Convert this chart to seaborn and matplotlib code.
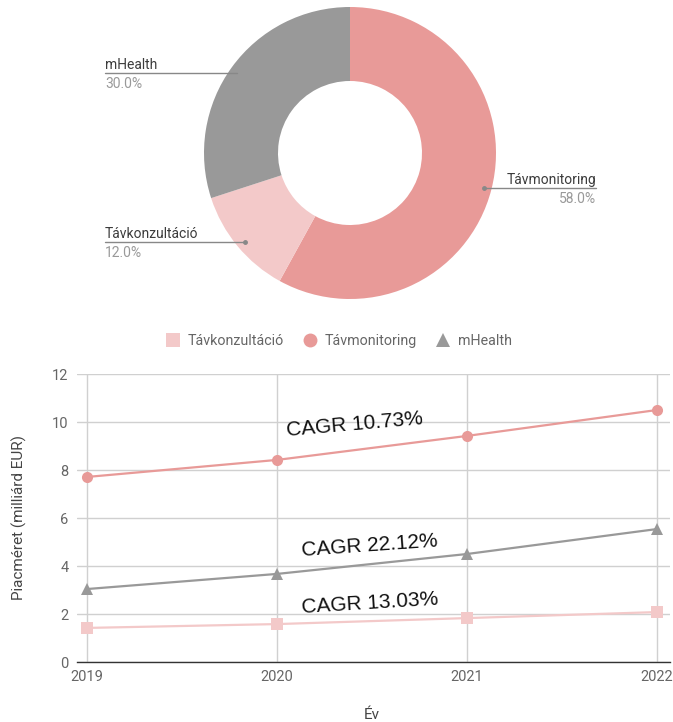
import matplotlib
matplotlib.use("Agg")
import matplotlib.pyplot as plt
from matplotlib.lines import Line2D
import seaborn as sns
import pandas as pd

# ---- data ----
pie_labels = ["Távmonitoring", "Távkonzultáció", "mHealth"]
pie_values = [58.0, 12.0, 30.0]
pie_colors = ["#E89A98", "#F3C9C9", "#999999"]

years = [2019, 2020, 2021, 2022]
series_names = ["Távkonzultáció", "Távmonitoring", "mHealth"]
tavkonzultacio = [1.42, 1.58, 1.83, 2.08]
tavmonitoring = [7.71, 8.42, 9.42, 10.5]
mhealth = [3.04, 3.67, 4.5, 5.54]
series_colors = {"Távkonzultáció": "#F3C9C9", "Távmonitoring": "#E89A98", "mHealth": "#999999"}
series_markers = {"Távkonzultáció": "s", "Távmonitoring": "o", "mHealth": "^"}
cagr_texts = ["CAGR 10.73%", "CAGR 22.12%", "CAGR 13.03%"]
y_ticks = [0, 2, 4, 6, 8, 10, 12]

sns.set_theme(style="white")
plt.rcParams["font.family"] = ["Roboto", "DejaVu Sans"]

W, H = 673, 722
fig = plt.figure(figsize=(W / 100, H / 100), dpi=100)

# ---- donut (axes in pixel coordinates) ----
axp = fig.add_axes([0, 0, 1, 1])
cx, cy, R = 350, H - 153, 146
axp.pie(pie_values, colors=pie_colors, startangle=90, counterclock=False,
        center=(cx, cy), radius=R,
        wedgeprops=dict(width=R - 72, linewidth=0))
axp.set_xlim(0, W)
axp.set_ylim(0, H)
axp.set_aspect("auto")
axp.axis("off")

lab_col = "#3C3C3C"
pct_col = "#999999"
line_col = "#888888"
fs = 10
# mHealth
axp.plot([105, 237], [H - 73, H - 73], color=line_col, lw=1)
axp.text(105, H - 69, pie_labels[2], ha="left", va="baseline", color=lab_col, fontsize=fs)
axp.text(105, H - 84, f"{pie_values[2]:.1f}%", ha="left", va="center", color=pct_col, fontsize=fs)
# Távkonzultáció
axp.plot([105, 245], [H - 242, H - 242], color=line_col, lw=1)
axp.plot([245], [H - 242], "o", color=line_col, ms=2.5)
axp.text(105, H - 238, pie_labels[1], ha="left", va="baseline", color=lab_col, fontsize=fs)
axp.text(105, H - 253, f"{pie_values[1]:.1f}%", ha="left", va="center", color=pct_col, fontsize=fs)
# Távmonitoring
axp.plot([484, 596], [H - 188, H - 188], color=line_col, lw=1)
axp.plot([484], [H - 188], "o", color=line_col, ms=2.5)
axp.text(596, H - 184, pie_labels[0], ha="right", va="baseline", color=lab_col, fontsize=fs)
axp.text(596, H - 199, f"{pie_values[0]:.1f}%", ha="right", va="center", color=pct_col, fontsize=fs)

# ---- line chart ----
rows = []
for name, vals in zip(series_names, [tavkonzultacio, tavmonitoring, mhealth]):
    for yr, v in zip(years, vals):
        rows.append({"Év": yr, "value": v, "series": name})
df = pd.DataFrame(rows)

left, right, top, bottom = 77, 670, 374, 662
ax = fig.add_axes([left / W, 1 - bottom / H, (right - left) / W, (bottom - top) / H])
sns.lineplot(data=df, x="Év", y="value", hue="series", style="series",
             hue_order=series_names, style_order=series_names,
             palette=series_colors, markers=series_markers, dashes=False,
             linewidth=1.6, markersize=8, markeredgewidth=0, ax=ax, legend=False)

ax.set_xlim(2019 - 10 / 190, 2022 + 13 / 190)
ax.set_ylim(0, 12)
ax.set_xticks(years)
ax.set_yticks(y_ticks)
ax.set_xticklabels([str(y) for y in years])
ax.grid(True, color="#D0D0D0", linewidth=1)
for s in ["top", "right", "left"]:
    ax.spines[s].set_visible(False)
ax.spines["bottom"].set_color("#333333")
ax.spines["bottom"].set_linewidth(1)
ax.tick_params(axis="both", length=0, labelsize=10.5, colors="#666666")
ax.tick_params(axis="y", pad=6)
ax.tick_params(axis="x", pad=6)
ax.set_xlabel("")
ax.set_ylabel("Piacméret (milliárd EUR)", fontsize=11, color="#444444", labelpad=18)
fig.text(372 / W, 1 - 715 / H, "Év", ha="center", va="center", fontsize=11, color="#444444")

# CAGR annotations
cagr_pos = [(2020.41, 9.88, 5.0), (2020.49, 4.83, 4.0), (2020.49, 2.46, 3.5)]
for txt, (x, y, rot) in zip(cagr_texts, cagr_pos):
    ax.text(x, y, txt, ha="center", va="center", rotation=rot, fontsize=15,
            family=["Liberation Sans", "DejaVu Sans"], color="#111111",
            rotation_mode="anchor")

# legend
handles = [Line2D([], [], linestyle="none", marker=series_markers[n], color=series_colors[n],
                  markersize=10, markeredgewidth=0) for n in series_names]
leg = fig.legend(handles, series_names, loc="center", bbox_to_anchor=(338 / W, 1 - 341 / H),
                 ncol=3, frameon=False, fontsize=10.3, handletextpad=0.45, columnspacing=1.2,
                 handlelength=1.2)
for t in leg.get_texts():
    t.set_color("#666666")

fig.savefig("out.png", dpi=100)
